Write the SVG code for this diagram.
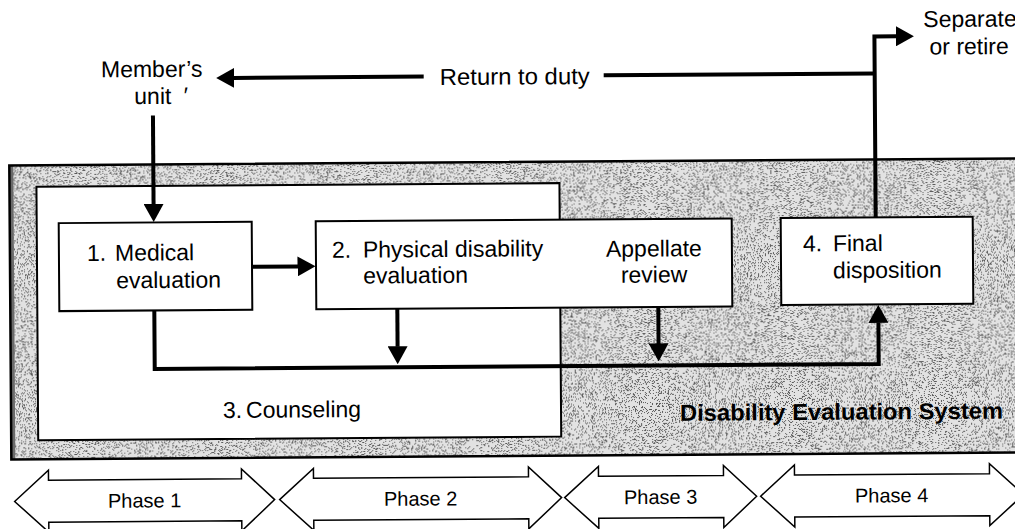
<svg xmlns="http://www.w3.org/2000/svg" width="1015" height="529" viewBox="0 0 1015 529">
  <defs>
    <style>
      text { font-family: "Liberation Sans", Arial, Helvetica, sans-serif; font-size: 23px; fill: #000; }
      .box { fill: #fff; stroke: #000; stroke-width: 2; }
      .frame { fill: none; stroke: #000; stroke-width: 2.5; }
      .flow { fill: none; stroke: #000; stroke-width: 4; }
      .phase { fill: #fff; stroke: #000; stroke-width: 1.5; stroke-linejoin: miter; }
      .phase-label { font-size: 20px; text-anchor: middle; }
      .mid { text-anchor: middle; }
      .title { font-weight: bold; }
    </style>
    <marker id="head" markerUnits="userSpaceOnUse" markerWidth="18" markerHeight="20"
            viewBox="0 0 18 20" refX="0.5" refY="10" orient="auto">
      <path d="M0,0 L18,10 L0,20 Z" fill="#000"/>
    </marker>
    <!-- halftone stipple used for the system band -->
    <filter id="stipple" x="0" y="0" width="1" height="1" color-interpolation-filters="sRGB">
      <feTurbulence type="fractalNoise" baseFrequency="1.3" numOctaves="1" seed="11" result="noise"/>
      <feColorMatrix in="noise" type="matrix"
        values="0 0 0 0 0  0 0 0 0 0  0 0 0 0 0  1 0 0 0 0" result="ra"/>
      <feComponentTransfer in="ra" result="dots">
        <feFuncA type="discrete" tableValues="0 0 0 0 0 0 1 1 1 1"/>
      </feComponentTransfer>
      <feFlood flood-color="#5a5a5a" result="ink"/>
      <feComposite in="ink" in2="dots" operator="in" result="speck"/>
      <feFlood flood-color="#e2e2e2" result="paper"/>
      <feMerge>
        <feMergeNode in="paper"/>
        <feMergeNode in="speck"/>
      </feMerge>
    </filter>
  </defs>

  <rect width="1015" height="529" fill="#fff"/>

  <g transform="rotate(-0.4 507 264)">
    <!-- Disability Evaluation System band -->
    <g id="system">
      <rect x="10" y="162" width="1020" height="294" filter="url(#stipple)"/>
      <rect x="10" y="162" width="4" height="294" fill="#6a6a6a"/>
      <rect class="frame" x="10" y="162" width="1020" height="294"/>
      <text class="title" x="679" y="422" textLength="323" lengthAdjust="spacingAndGlyphs">Disability Evaluation System</text>
    </g>

    <!-- 3. Counseling -->
    <g id="counseling">
      <rect class="box" x="37" y="183.5" width="523" height="253.5"/>
      <text><tspan x="222" y="416">3.</tspan><tspan x="245" y="416">Counseling</tspan></text>
    </g>

    <!-- 1. Medical evaluation -->
    <g id="medical">
      <rect class="box" x="59" y="220" width="193" height="88"/>
      <text><tspan x="87" y="258">1.</tspan><tspan x="115" y="258">Medical</tspan><tspan x="116" y="285.5">evaluation</tspan></text>
    </g>

    <!-- 2. Physical disability evaluation / Appellate review -->
    <g id="physical">
      <rect class="box" x="316" y="220" width="416" height="88"/>
      <text><tspan x="332" y="256.5">2.</tspan><tspan x="363" y="256.5">Physical disability</tspan><tspan x="363" y="282.5">evaluation</tspan></text>
      <text class="mid"><tspan x="654" y="257.5">Appellate</tspan><tspan x="654" y="283.5">review</tspan></text>
    </g>

    <!-- 4. Final disposition -->
    <g id="final">
      <rect class="box" x="781" y="220" width="192" height="87"/>
      <text><tspan x="803" y="253.5">4.</tspan><tspan x="833" y="253.5">Final</tspan><tspan x="833" y="280.5">disposition</tspan></text>
    </g>

    <!-- Member's unit -->
    <g id="member-unit">
      <text class="mid"><tspan x="153" y="74.5">Member’s</tspan><tspan x="154" y="101.5">unit</tspan></text>
      <text x="185" y="101">′</text>
    </g>

    <!-- Separate or retire -->
    <g id="separate">
      <text><tspan x="925" y="30">Separate</tspan><tspan x="931" y="57.5">or retire</tspan></text>
    </g>

    <!-- connectors -->
    <g id="connectors">
      <path class="flow" d="M876 220 V39 H898" marker-end="url(#head)"/>
      <path class="flow" d="M876 76 H605"/>
      <path class="flow" d="M425 76 H235" marker-end="url(#head)"/>
      <text x="441" y="84.5" textLength="150" lengthAdjust="spacingAndGlyphs">Return to duty</text>
      <path class="flow" d="M154 113 V202" marker-end="url(#head)"/>
      <path class="flow" d="M252 265 H298" marker-end="url(#head)"/>
      <path class="flow" d="M154 308 V366.5 H878 V325" marker-end="url(#head)"/>
      <path class="flow" d="M397 308 V346" marker-end="url(#head)"/>
      <path class="flow" d="M658 308 V345" marker-end="url(#head)"/>
    </g>

    <!-- phase timeline -->
    <g id="phases">
      <polygon class="phase" points="13,498 47,467 47,477 240,477 240,467 273,498 240,529 240,519 47,519 47,529"/>
      <text class="phase-label" x="143" y="505">Phase 1</text>
      <polygon class="phase" points="278,498 312,467 312,477 527,477 527,467 560,498 527,529 527,519 312,519 312,529"/>
      <text class="phase-label" x="419" y="505">Phase 2</text>
      <polygon class="phase" points="563,498 597,467 597,477 722,477 722,467 755,498 722,529 722,519 597,519 597,529"/>
      <text class="phase-label" x="659" y="505">Phase 3</text>
      <polygon class="phase" points="759,498 793,467 793,477 988,477 988,467 1022,498 988,529 988,519 793,519 793,529"/>
      <text class="phase-label" x="890" y="505">Phase 4</text>
    </g>
  </g>
</svg>
